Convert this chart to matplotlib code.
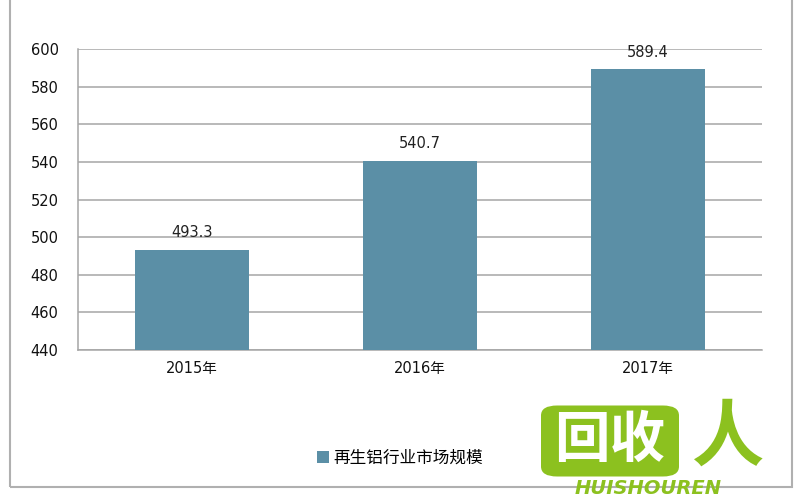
import matplotlib.pyplot as plt
from matplotlib.patches import Rectangle, FancyBboxPatch

plt.rcParams['font.family'] = ['DejaVu Sans', 'Noto Sans CJK SC']

years = ['2015年', '2016年', '2017年']
market = [493.3, 540.7, 589.4]
series_name = '再生铝行业市场规模'

bar_color = '#5b8fa6'
grid_color = '#a6a6a6'

fig = plt.figure(figsize=(8, 5), dpi=100)
ax = fig.add_axes([0.0975, 0.30, 0.855, 0.602])

bars = ax.bar(years, market, width=0.5, color=bar_color, label=series_name, zorder=3)
for b, v in zip(bars, market):
    ax.text(b.get_x() + b.get_width() / 2, v + 5, f'{v:.1f}', ha='center', va='bottom',
            fontsize=10.5, color='#222222')

ax.set_ylim(440, 600)
ax.set_yticks(range(440, 601, 20))
ax.set_xlim(-0.5, 2.5)
ax.yaxis.grid(True, color=grid_color, linewidth=1.1, zorder=0)
ax.tick_params(axis='both', length=0, labelsize=10.5, colors='#111111', pad=8)
ax.tick_params(axis='y', pad=14)
for s in ['top', 'right']:
    ax.spines[s].set_visible(False)
for s in ['left', 'bottom']:
    ax.spines[s].set_color(grid_color)
    ax.spines[s].set_linewidth(1.1)

fig.legend(loc='center', bbox_to_anchor=(0.5, 0.084), frameon=False, fontsize=12,
           handlelength=0.7, handleheight=0.7, handletextpad=0.3,
           prop={'family': ['Noto Sans CJK SC'], 'size': 12})

# outer border
fig.patches.append(Rectangle((10 / 800, 13 / 500), 782 / 800, 0.99, transform=fig.transFigure,
                             fill=False, edgecolor='#b0b0b0', linewidth=1.5, zorder=0))

# watermark logo
green = '#8cc11f'
fig.patches.append(FancyBboxPatch((545 / 800, 26 / 500), 130 / 800, 66 / 500,
                                  boxstyle='round,pad=0.005,rounding_size=0.02',
                                  transform=fig.transFigure, facecolor=green,
                                  edgecolor='none', zorder=5))
fig.text(610 / 800, 59 / 500, '回收', color='white', fontsize=40, fontweight='bold',
         ha='center', va='center', family=['Noto Sans CJK SC'], zorder=6)
fig.text(728 / 800, 62 / 500, '人', color=green, fontsize=52, fontweight='bold',
         ha='center', va='center', family=['Noto Sans CJK SC'], zorder=6)
fig.text(648 / 800, 12 / 500, 'HUISHOUREN', color=green, fontsize=14, fontweight='bold',
         style='italic', ha='center', va='center', zorder=6)

fig.savefig('out.png', dpi=100, facecolor='white')
